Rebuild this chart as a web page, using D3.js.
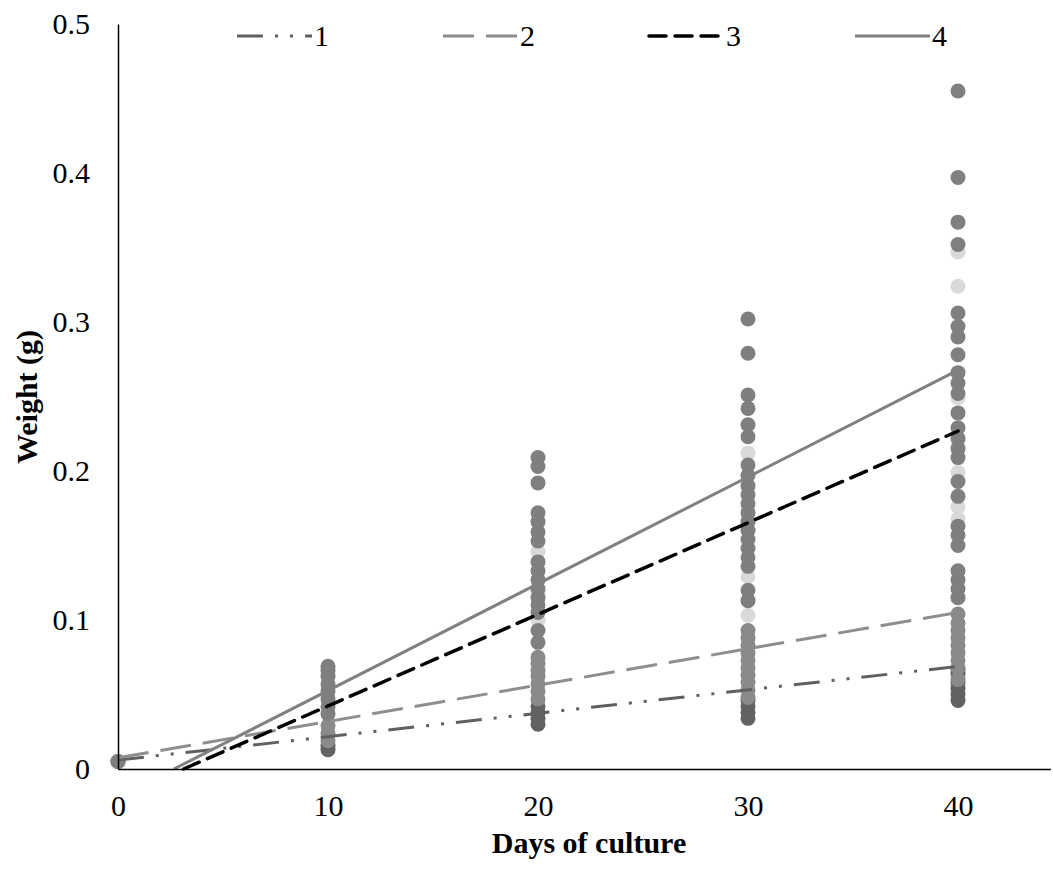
<!DOCTYPE html>
<html>
<head>
<meta charset="utf-8">
<script src="https://cdn.jsdelivr.net/npm/d3@7"></script>
<style>
  body { margin: 0; background: #fff; }
</style>
</head>
<body>
<div id="chart"></div>
<script>
// data
const days = [0, 10, 20, 30, 40]
const seriesNames = ['1', '2', '3', '4']

// weight (g) of every sample, one list per day
const weights1 = [
  [0.005],
  [0.013, 0.016],
  [0.030, 0.034, 0.038, 0.042],
  [0.034, 0.038, 0.042, 0.046],
  [0.046, 0.050, 0.054, 0.058, 0.064, 0.067]
]
const weights2 = [
  [0.005],
  [0.019, 0.024, 0.029],
  [0.047, 0.052, 0.057, 0.062, 0.066, 0.071, 0.075],
  [0.048, 0.053, 0.058, 0.063, 0.068, 0.073, 0.078, 0.083, 0.088, 0.093],
  [0.060, 0.068, 0.073, 0.078, 0.083, 0.088, 0.093, 0.098, 0.104]
]
const weights3 = [
  [0.005],
  [0.040, 0.048, 0.055],
  [0.100, 0.120, 0.146],
  [0.103, 0.129, 0.160, 0.212],
  [0.168, 0.176, 0.199, 0.220, 0.249, 0.324, 0.347]
]
const weights4 = [
  [0.005],
  [0.037, 0.042, 0.047, 0.052, 0.057, 0.062, 0.066, 0.069],
  [0.085, 0.093, 0.105, 0.110, 0.115, 0.121, 0.127, 0.133, 0.139, 0.153, 0.159, 0.166, 0.172, 0.192, 0.203, 0.209],
  [0.113, 0.120, 0.136, 0.142, 0.148, 0.154, 0.160, 0.166, 0.172, 0.178, 0.184, 0.190, 0.197, 0.204, 0.223, 0.231, 0.242, 0.251, 0.279, 0.302],
  [0.115, 0.121, 0.127, 0.133, 0.150, 0.157, 0.163, 0.183, 0.193, 0.209, 0.215, 0.222, 0.229, 0.239, 0.252, 0.259, 0.266, 0.278, 0.290, 0.297, 0.306, 0.352, 0.367, 0.397, 0.455]
]

// linear trend lines, weight = slope * day + intercept
const trendSlopes = [0.00157, 0.00244, 0.00615, 0.00717]
const trendIntercepts = [0.006, 0.0075, -0.0192, -0.0191]

const xTicks = [0, 10, 20, 30, 40]
const yTicks = [0, 0.1, 0.2, 0.3, 0.4, 0.5]
const yTickLabels = ['0', '0.1', '0.2', '0.3', '0.4', '0.5']

// look
const width = 1053
const height = 873
const font = '"Liberation Serif", "Times New Roman", serif'
const markerColors = ['#626262', '#8a8a8a', '#d9d9d9', '#7f7f7f']
const lineColors = ['#606060', '#8e8e8e', '#000000', '#808080']
const lineDashes = ['26,12,3,12,3,12', '31,12', '17,9', null]
const lineWidths = [3, 3, 3.5, 3]

const x = d3.scaleLinear().domain([0, 44.4]).range([118, 1050.4])
const y = d3.scaleLinear().domain([0, 0.5]).range([769, 24])

const svg = d3.select('#chart')
  .append('svg')
  .attr('width', width)
  .attr('height', height)
  .style('font-family', font)

// markers, series drawn in order so the last one sits on top
const allWeights = [weights1, weights2, weights3, weights4]
allWeights.forEach((perDay, s) => {
  const pts = []
  perDay.forEach((list, i) => list.forEach(w => pts.push({day: days[i], w})))
  svg.append('g')
    .selectAll('circle')
    .data(pts)
    .enter()
    .append('circle')
    .attr('cx', d => x(d.day))
    .attr('cy', d => y(d.w))
    .attr('r', 7.5)
    .style('fill', markerColors[s])
})

// trend lines, cut where they drop under zero
const trendG = svg.append('g')
seriesNames.forEach((name, s) => {
  const m = trendSlopes[s]
  const b = trendIntercepts[s]
  const x0 = Math.max(0, -b / m)
  const line = trendG.append('line')
    .attr('x1', x(x0))
    .attr('y1', y(m * x0 + b))
    .attr('x2', x(40))
    .attr('y2', y(m * 40 + b))
    .style('stroke', lineColors[s])
    .style('stroke-width', lineWidths[s])
  if (lineDashes[s]) line.style('stroke-dasharray', lineDashes[s])
  if (s === 2) line.style('stroke-linecap', 'round')
})

// axes
const yAxis = svg.append('g')
  .attr('transform', `translate(${x(0)},0)`)
  .call(d3.axisLeft(y).tickValues(yTicks).tickSize(0).tickPadding(28)
    .tickFormat((d, i) => yTickLabels[i]))
const xAxis = svg.append('g')
  .attr('transform', `translate(0,${y(0)})`)
  .call(d3.axisBottom(x).tickValues(xTicks).tickSize(0).tickPadding(26))

;[xAxis, yAxis].forEach(g => {
  g.select('.domain').style('stroke', '#000').style('stroke-width', 1.5)
  g.selectAll('text')
    .style('font-family', font)
    .style('font-size', '30px')
    .style('fill', '#000')
})

// axis titles
svg.append('text')
  .text('Days of culture')
  .attr('x', 589)
  .attr('y', 853)
  .attr('text-anchor', 'middle')
  .style('font-size', '30px')
  .style('font-weight', 'bold')

svg.append('text')
  .text('Weight (g)')
  .attr('transform', 'translate(37,397) rotate(-90)')
  .attr('text-anchor', 'middle')
  .style('font-size', '30px')
  .style('font-weight', 'bold')

// legend across the top
const legend = svg.append('g')
seriesNames.forEach((name, s) => {
  const lx = 237 + s * 206
  const item = legend.append('line')
    .attr('x1', lx)
    .attr('x2', lx + 75)
    .attr('y1', 36)
    .attr('y2', 36)
    .style('stroke', lineColors[s])
    .style('stroke-width', lineWidths[s])
  if (lineDashes[s]) item.style('stroke-dasharray', lineDashes[s])
  if (s === 2) item.style('stroke-linecap', 'round')
  legend.append('text')
    .text(name)
    .attr('x', lx + 77)
    .attr('y', 46)
    .style('font-size', '30px')
})
</script>
</body>
</html>
